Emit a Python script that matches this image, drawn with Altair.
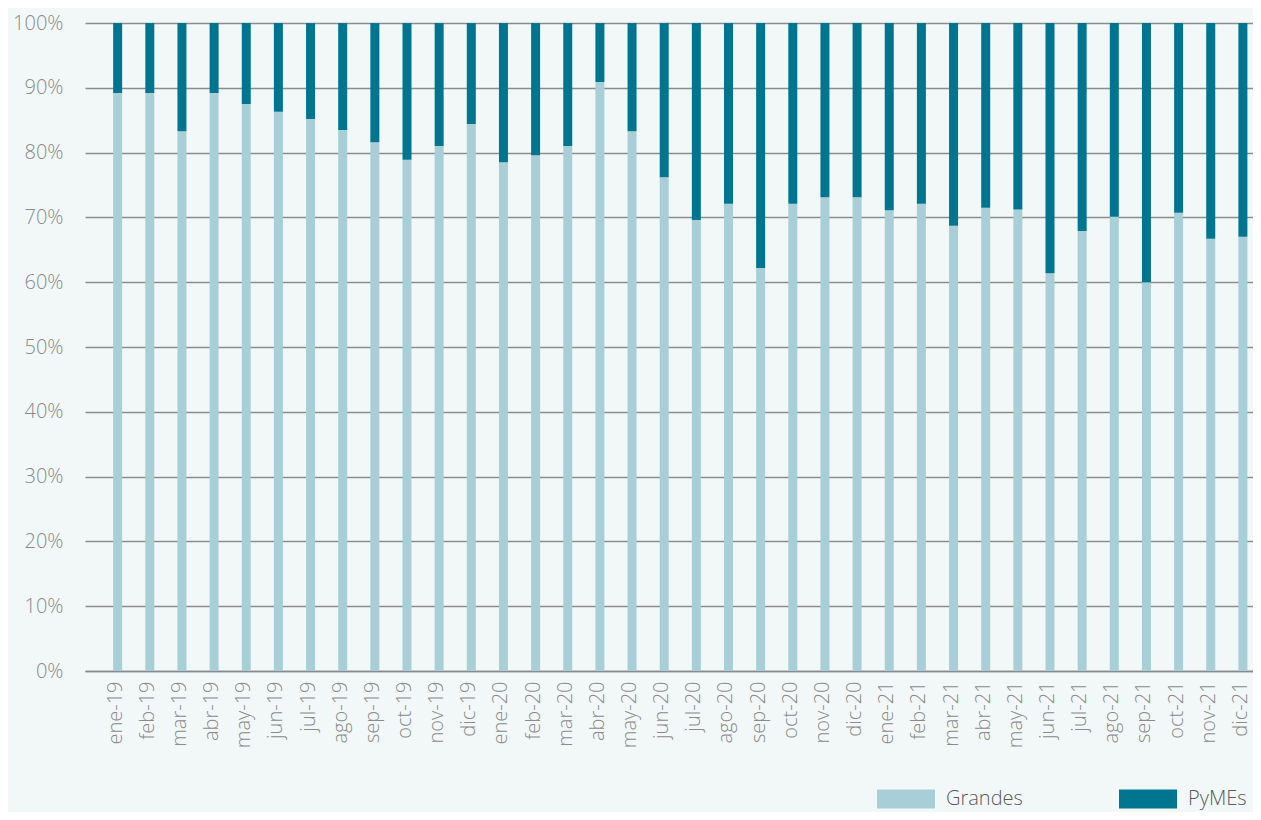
import altair as alt
import pandas as pd

months = ["ene-19", "feb-19", "mar-19", "abr-19", "may-19", "jun-19", "jul-19", "ago-19", "sep-19", "oct-19", "nov-19", "dic-19",
          "ene-20", "feb-20", "mar-20", "abr-20", "may-20", "jun-20", "jul-20", "ago-20", "sep-20", "oct-20", "nov-20", "dic-20",
          "ene-21", "feb-21", "mar-21", "abr-21", "may-21", "jun-21", "jul-21", "ago-21", "sep-21", "oct-21", "nov-21", "dic-21"]

grandes = [89.2, 89.2, 83.3, 89.2, 87.5, 86.3, 85.2, 83.5, 81.6, 78.9, 81.0, 84.4,
           78.5, 79.6, 81.0, 90.9, 83.3, 76.2, 69.6, 72.1, 62.2, 72.1, 73.1, 73.1,
           71.1, 72.1, 68.7, 71.5, 71.2, 61.4, 67.9, 70.1, 60.0, 70.7, 66.7, 67.0]

pymes = [10.8, 10.8, 16.7, 10.8, 12.5, 13.7, 14.8, 16.5, 18.4, 21.1, 19.0, 15.6,
         21.5, 20.4, 19.0, 9.1, 16.7, 23.8, 30.4, 27.9, 37.8, 27.9, 26.9, 26.9,
         28.9, 27.9, 31.3, 28.5, 28.8, 38.6, 32.1, 29.9, 40.0, 29.3, 33.3, 33.0]

series = ["Grandes", "PyMEs"]
colors = ["#a8cfd7", "#00758f"]

rows = []
for i, m in enumerate(months):
    rows.append({"mes": m, "serie": series[0], "valor": grandes[i], "orden": 0})
    rows.append({"mes": m, "serie": series[1], "valor": pymes[i], "orden": 1})
df = pd.DataFrame(rows)

FONT = "Open Sans"

chart = alt.Chart(df).mark_bar().encode(
    x=alt.X("mes:N", sort=months, title=None,
            scale=alt.Scale(paddingInner=0.72, paddingOuter=0.525, align=0.834),
            axis=alt.Axis(labelAngle=270, labelPadding=10, labelOffset=-2, ticks=False,
                          domain=True, domainColor="#8a8a8a", domainWidth=1.5, grid=False,
                          labelFont=FONT, labelFontSize=20, labelFontWeight=300,
                          labelColor="#8a8a8a")),
    y=alt.Y("valor:Q", stack="zero", title=None,
            scale=alt.Scale(domain=[0, 100], nice=False),
            axis=alt.Axis(values=list(range(0, 101, 10)), labelExpr="datum.value + '%'",
                          ticks=False, domain=False, grid=True, gridColor="#8c8c8c",
                          gridWidth=1.3, labelPadding=22, labelFont=FONT,
                          labelFontSize=20, labelFontWeight=300, labelColor="#8a8a8a")),
    color=alt.Color("serie:N", scale=alt.Scale(domain=series, range=colors),
                    legend=alt.Legend(title=None, orient="none", legendX=811, legendY=766,
                                      direction="horizontal",
                                      symbolType="M-2.9,-0.95H2.9V0.95H-2.9Z", symbolSize=400,
                                      symbolStrokeWidth=0, symbolOpacity=1,
                                      labelOffset=30, columnPadding=96, padding=0,
                                      labelFont=FONT, labelFontSize=20, labelFontWeight=300,
                                      labelColor="#5a5a5a")),
    order=alt.Order("orden:Q", sort="ascending"),
).properties(
    width=1168, height=648,
    background="#f2f8f8",
    padding={"left": 77, "top": 15, "right": 0, "bottom": 141},
    autosize=alt.AutoSizeParams(type="none"),
).configure_view(stroke=None)

chart.save("out.html", embed_options={"renderer": "svg", "actions": False})
